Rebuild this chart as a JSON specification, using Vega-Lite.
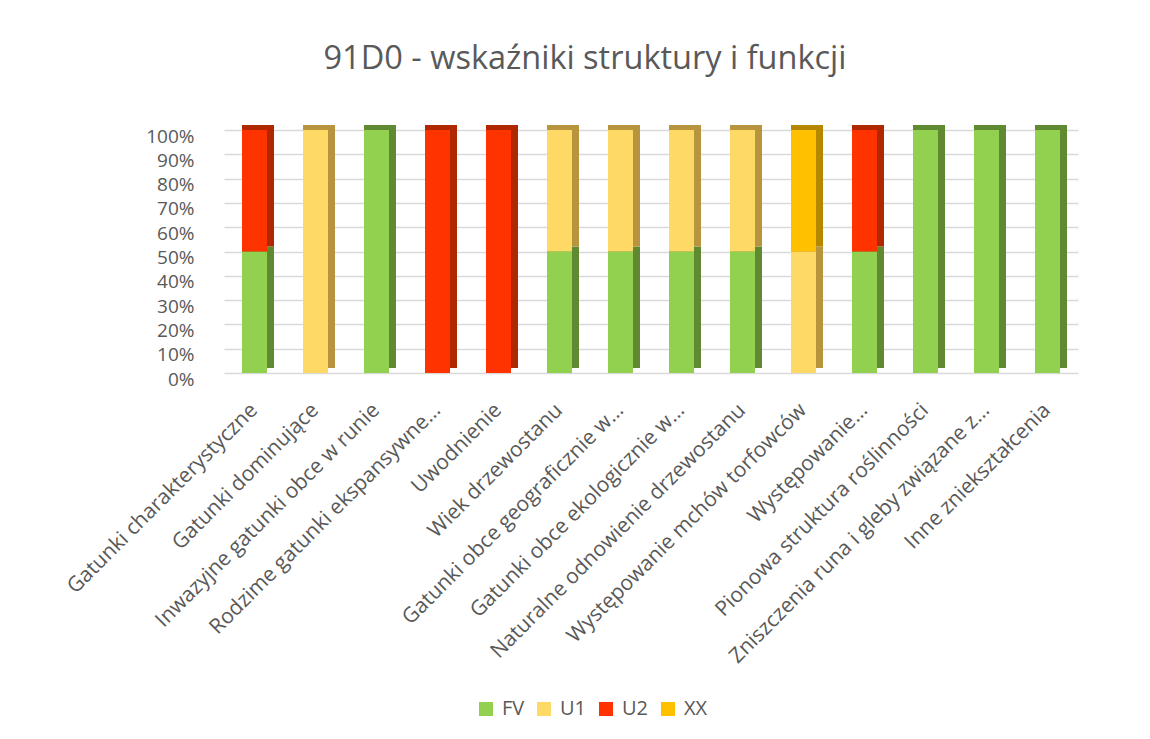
{
  "$schema": "https://vega.github.io/schema/vega-lite/v6.json",
  "width": 854,
  "height": 243,
  "autosize": {"type": "none"},
  "padding": {"left": 224, "top": 130, "right": 72, "bottom": 366},
  "background": "white",
  "title": {
    "text": "91D0 - wskaźniki struktury i funkcji",
    "font": "Open Sans",
    "fontSize": 32.5,
    "fontWeight": "normal",
    "color": "#595959",
    "anchor": "middle",
    "dx": -66,
    "offset": 24,
    "baseline": "alphabetic"
  },
  "config": {
    "view": {"stroke": null},
    "axis": {"labelFont": "Open Sans", "labelColor": "#595959", "labelFontSize": 19}
  },
  "resolve": {
    "scale": {"color": "independent", "fill": "independent"},
    "legend": {"color": "independent", "fill": "independent"}
  },
  "data": {
    "values": [
      {"category": "Gatunki charakterystyczne", "status": "FV", "value": 0.5},
      {"category": "Gatunki charakterystyczne", "status": "U2", "value": 0.5},
      {"category": "Gatunki dominujące", "status": "U1", "value": 1},
      {"category": "Inwazyjne gatunki obce w runie", "status": "FV", "value": 1},
      {"category": "Rodzime gatunki ekspansywne…", "status": "U2", "value": 1},
      {"category": "Uwodnienie", "status": "U2", "value": 1},
      {"category": "Wiek drzewostanu", "status": "FV", "value": 0.5},
      {"category": "Wiek drzewostanu", "status": "U1", "value": 0.5},
      {"category": "Gatunki obce geograficznie w…", "status": "FV", "value": 0.5},
      {"category": "Gatunki obce geograficznie w…", "status": "U1", "value": 0.5},
      {"category": "Gatunki obce ekologicznie w…", "status": "FV", "value": 0.5},
      {"category": "Gatunki obce ekologicznie w…", "status": "U1", "value": 0.5},
      {"category": "Naturalne odnowienie drzewostanu", "status": "FV", "value": 0.5},
      {"category": "Naturalne odnowienie drzewostanu", "status": "U1", "value": 0.5},
      {"category": "Występowanie mchów torfowców", "status": "U1", "value": 0.5},
      {"category": "Występowanie mchów torfowców", "status": "XX", "value": 0.5},
      {"category": "Występowanie…", "status": "FV", "value": 0.5},
      {"category": "Występowanie…", "status": "U2", "value": 0.5},
      {"category": "Pionowa struktura roślinności", "status": "FV", "value": 1},
      {"category": "Zniszczenia runa i gleby związane z…", "status": "FV", "value": 1},
      {"category": "Inne zniekształcenia", "status": "FV", "value": 1}
    ]
  },
  "encoding": {
    "x": {
      "field": "category",
      "type": "nominal",
      "sort": null,
      "scale": {"paddingInner": 0.5, "paddingOuter": 0.25},
      "axis": {
        "title": null,
        "labelAngle": -45,
        "labelAlign": "right",
        "labelBaseline": "top",
        "labelPadding": 26,
        "labelOffset": -8,
        "labelFontSize": 21,
        "domain": false,
        "ticks": false,
        "grid": false,
        "labelLimit": 0
      }
    },
    "y": {
      "field": "value",
      "type": "quantitative",
      "stack": "zero",
      "scale": {"domain": [0, 1]},
      "axis": {
        "title": null,
        "format": ".0%",
        "values": [0, 0.1, 0.2, 0.3, 0.4, 0.5, 0.6, 0.7, 0.8, 0.9, 1],
        "domain": false,
        "ticks": false,
        "grid": true,
        "gridColor": "#d9d9d9",
        "gridWidth": 1.5,
        "labelPadding": 30,
        "labelOffset": 6
      }
    },
    "order": {"field": "status", "sort": "ascending"},
    "detail": {"field": "status"}
  },
  "layer": [
    {
      "mark": {"type": "bar", "width": 32, "xOffset": 3.5, "yOffset": -5},
      "encoding": {
        "fill": {
          "field": "status",
          "type": "nominal",
          "scale": {"domain": ["FV", "U1", "U2", "XX"], "range": ["#5F8A32", "#B8943F", "#B02800", "#B58800"]},
          "legend": null
        }
      }
    },
    {
      "mark": {"type": "bar", "width": 25},
      "encoding": {
        "color": {
          "field": "status",
          "type": "nominal",
          "scale": {"domain": ["FV", "U1", "U2", "XX"], "range": ["#92D050", "#FFD966", "#FF3300", "#FFC000"]},
          "legend": {
            "title": null,
            "orient": "none",
            "direction": "horizontal",
            "legendX": 252,
            "legendY": 569,
            "padding": 0,
            "symbolType": "square",
            "symbolSize": 196,
            "symbolStrokeWidth": 0,
            "labelFont": "Open Sans",
            "labelFontSize": 20,
            "labelColor": "#595959",
            "labelOffset": 6,
            "columnPadding": 9
          }
        }
      }
    }
  ]
}
